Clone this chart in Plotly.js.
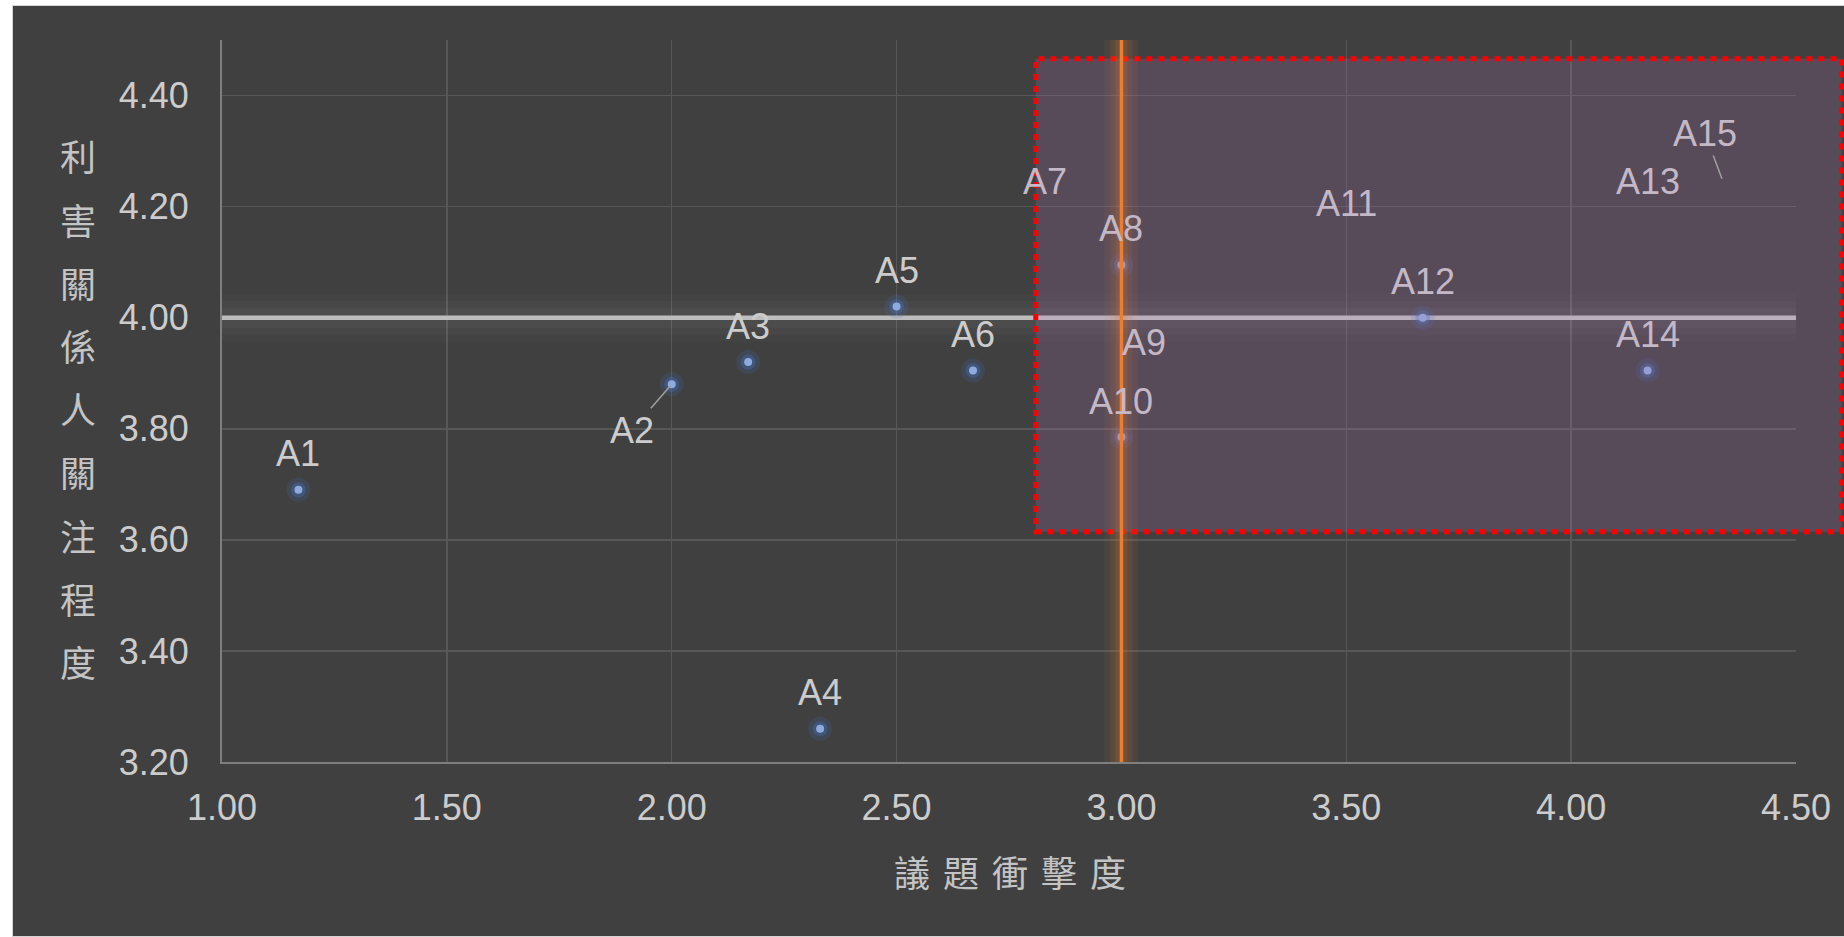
<!DOCTYPE html>
<html>
<head>
<meta charset="utf-8">
<script src="https://cdn.plot.ly/plotly-3.0.1.min.js"></script>
<style>
html,body{margin:0;padding:0;background:#ffffff;width:1844px;height:937px;overflow:hidden;}
#frame{position:absolute;left:12px;top:5px;width:1832px;height:932px;background:#d4d4d4;}
#chart{position:absolute;left:13px;top:6px;width:1831px;height:930px;}
</style>
</head>
<body>
<div id="frame"></div>
<div id="chart"></div>
<script>
// ---------------- data ----------------
const labels  = ['A1','A2','A3','A4','A5','A6','A7','A8','A9','A10','A11','A12','A13','A14','A15'];
const impact  = [1.17, 2.00, 2.17, 2.33, 2.50, 2.67, 2.83, 3.00, 3.05, 3.00, 3.50, 3.67, 4.17, 4.17, 4.34];
const concern = [3.69, 3.88, 3.92, 3.26, 4.02, 3.905, 4.18, 4.095, 3.89, 3.785, 4.14, 4.00, 4.18, 3.905, 4.24];
const impactMid  = 3.00;
const concernMid = 4.00;
const xTicks = [1.00, 1.50, 2.00, 2.50, 3.00, 3.50, 4.00, 4.50];
const yTicks = [3.20, 3.40, 3.60, 3.80, 4.00, 4.20, 4.40];
const xTitle = '議題衝擊度';
const yTitle = '利害關係人關注程度';

// ---------------- styles ----------------
const hiddenMarkers = ['A7','A9','A11','A13','A15'];
const leaderLabels = { 'A2': {ax:-40, ay:46, standoff:2}, 'A15': {ax:-19, ay:-51, standoff:6} };
const xRange = [1.0, 4.5], yRange = [3.2, 4.5];
const box = {x0:0.517, x1:1.029, y0:0.319, y1:0.974}; // paper coords
const txt = '#cccccc', txtTint = '#c4b8c7';
const numFont = 'Liberation Sans, Arial, sans-serif';
const cjkFont = 'Noto Sans CJK TC, sans-serif';

const vis = labels.map(l => !hiddenMarkers.includes(l));
const vx = impact.filter((v,i)=>vis[i]);
const vy = concern.filter((v,i)=>vis[i]);

const traces = [
  {x:[xRange[0], xRange[1]], y:[concernMid, concernMid], mode:'lines', line:{color:'rgba(255,255,255,0.02)', width:48}, hoverinfo:'skip'},
  {x:[xRange[0], xRange[1]], y:[concernMid, concernMid], mode:'lines', line:{color:'rgba(255,255,255,0.025)', width:34}, hoverinfo:'skip'},
  {x:[xRange[0], xRange[1]], y:[concernMid, concernMid], mode:'lines', line:{color:'rgba(255,255,255,0.03)', width:20}, hoverinfo:'skip'},
  {x:[xRange[0], xRange[1]], y:[concernMid, concernMid], mode:'lines', line:{color:'#bdbdbd', width:4.5}, hoverinfo:'skip'},
  {x:vx, y:vy, mode:'markers', marker:{size:24, color:'rgba(68,114,196,0.16)'}, hoverinfo:'skip'},
  {x:vx, y:vy, mode:'markers', marker:{size:15, color:'rgba(68,114,196,0.35)'}, hoverinfo:'skip'},
  {x:vx, y:vy, mode:'markers', marker:{size:8, color:'#8faadc'}, hoverinfo:'skip'}
];

function inBox(x, y) {
  const px = (x - xRange[0]) / (xRange[1] - xRange[0]);
  const py = (y - yRange[0]) / (yRange[1] - yRange[0]);
  return px >= box.x0 && px <= box.x1 && py >= box.y0 && py <= box.y1;
}

const annotations = [];
labels.forEach((l, i) => {
  const a = {x:impact[i], y:concern[i], xref:'x', yref:'y', text:l,
    font:{family:numFont, size:36, color: inBox(impact[i], concern[i]) ? txtTint : txt}};
  if (leaderLabels[l]) {
    Object.assign(a, {showarrow:true, arrowhead:0, arrowwidth:1.5, arrowcolor:'#a0a0a0',
      ax:leaderLabels[l].ax, ay:leaderLabels[l].ay, standoff:leaderLabels[l].standoff});
  } else {
    Object.assign(a, {showarrow:false, yshift:36});
  }
  annotations.push(a);
});

// plot area in paper px: left 209, top 34, width 1574, height 722
const plotW = 1574, plotH = 722;
Array.from(yTitle).forEach((ch, i) => {
  annotations.push({xref:'paper', yref:'paper', x:(78-222)/plotW, y:(762-(155.3+i*63.2))/plotH,
    text:ch, showarrow:false, xanchor:'center', yanchor:'middle',
    font:{family:cjkFont, size:36, color:'#c4c4c4'}});
});
Array.from(xTitle).forEach((ch, i) => {
  annotations.push({xref:'paper', yref:'paper', x:(912+i*49-222)/plotW, y:(762-871)/plotH,
    text:ch, showarrow:false, xanchor:'center', yanchor:'middle',
    font:{family:cjkFont, size:36, color:'#c4c4c4'}});
});

const shapes = [
  {type:'rect', xref:'paper', yref:'paper', x0:box.x0, x1:box.x1, y0:box.y0, y1:box.y1,
   fillcolor:'rgba(180,120,195,0.2)', line:{color:'#ff0000', width:5, dash:'6px,6px'}, layer:'above'},
  {type:'line', xref:'x', yref:'paper', x0:impactMid, x1:impactMid, y0:0, y1:1,
   line:{color:'rgba(237,125,49,0.07)', width:34}, layer:'above'},
  {type:'line', xref:'x', yref:'paper', x0:impactMid, x1:impactMid, y0:0, y1:1,
   line:{color:'rgba(237,125,49,0.1)', width:22}, layer:'above'},
  {type:'line', xref:'x', yref:'paper', x0:impactMid, x1:impactMid, y0:0, y1:1,
   line:{color:'rgba(237,125,49,0.14)', width:12}, layer:'above'},
  {type:'line', xref:'x', yref:'paper', x0:impactMid, x1:impactMid, y0:0, y1:1,
   line:{color:'#ed7d31', width:3.5}, layer:'above'}
];

const axisCommon = {
  showgrid:true, gridcolor:'#575757', gridwidth:1.5, zeroline:false,
  showline:true, linecolor:'#7f7f7f', linewidth:2, ticks:'',
  tickfont:{family:numFont, size:36, color:txt}, fixedrange:true
};

const layout = {
  width:1831, height:930,
  margin:{l:209, r:48, t:34, b:174},
  paper_bgcolor:'#404040', plot_bgcolor:'#404040',
  showlegend:false,
  xaxis:Object.assign({}, axisCommon, {range:xRange, tickvals:xTicks,
    ticktext:xTicks.map(v=>v.toFixed(2)), ticklabelstandoff:13}),
  yaxis:Object.assign({}, axisCommon, {range:yRange, tickvals:yTicks,
    ticktext:yTicks.map(v=>v.toFixed(2)), ticklabelstandoff:24}),
  annotations:annotations,
  shapes:shapes
};

Plotly.newPlot('chart', traces, layout, {staticPlot:true, displayModeBar:false});
</script>
</body>
</html>
